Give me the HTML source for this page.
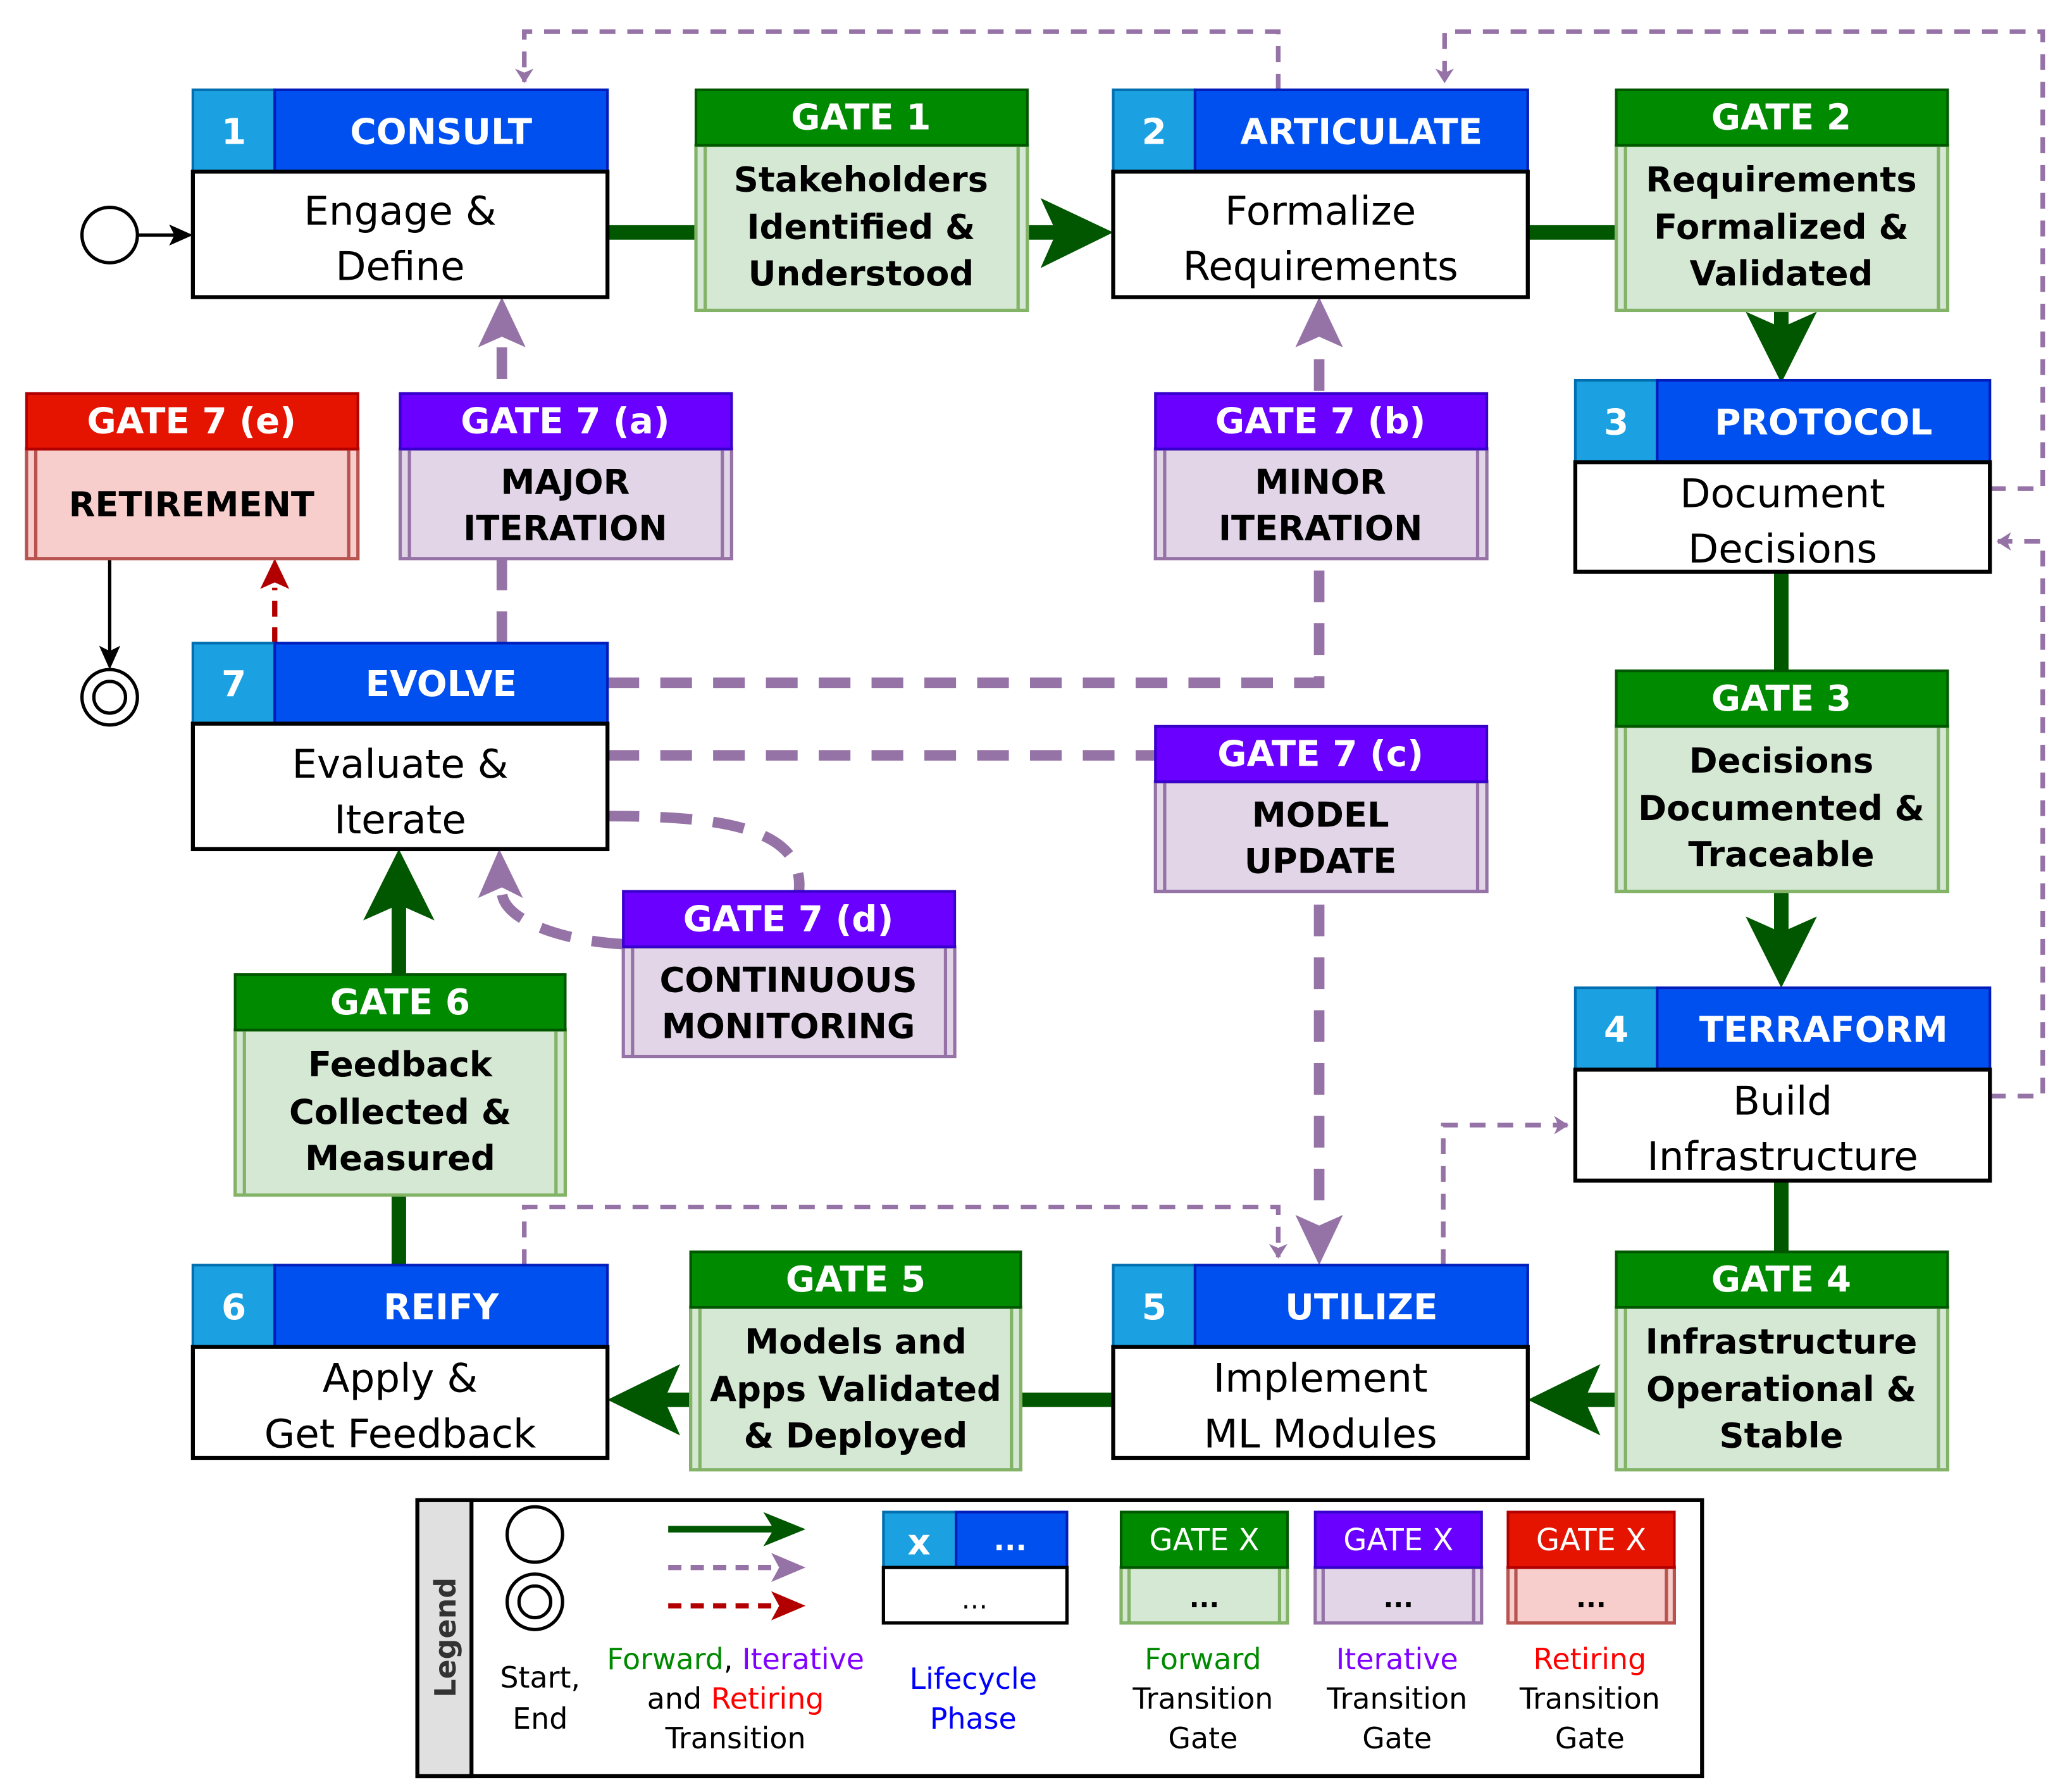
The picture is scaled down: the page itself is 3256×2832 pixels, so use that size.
<!DOCTYPE html>
<html><head><meta charset="utf-8"><style>
html,body{margin:0;padding:0;background:#fff}
svg{display:block}
text{font-family:"DejaVu Sans","Liberation Sans",sans-serif}
.h{font-weight:bold;fill:#fff;font-size:27px}
.b{font-size:30px;fill:#000}
.g{font-weight:bold;font-size:26px;fill:#000}
.l{font-size:22px}
</style></head><body>
<svg width="3256" height="2832" viewBox="0 0 1560 1357" xmlns="http://www.w3.org/2000/svg">
<defs>
<marker id="pa" markerWidth="12" markerHeight="14" refX="10" refY="7" orient="auto" markerUnits="userSpaceOnUse"><path d="M0,0 L11,7 L0,14 L3,7Z" fill="#9673a6"/></marker>
</defs>
<!-- thin purple dashed -->
<g fill="none" stroke="#9673a6" stroke-width="3.5" stroke-dasharray="12 9">
<path d="M968,68 V24 H397 V62" marker-end="url(#pa)"/>
<path d="M1507,370 H1547 V24 H1094 V62" marker-end="url(#pa)"/>
<path d="M1507,830 H1547 V410 H1513" marker-end="url(#pa)"/>
<path d="M1093,958 V852 H1187" marker-end="url(#pa)"/>
<path d="M397,958 V914 H968 V952" marker-end="url(#pa)"/>
</g>
<!-- thick purple dashed -->
<g fill="none" stroke="#9673a6" stroke-width="8" stroke-dasharray="24 16">
<path d="M380,487 V262"/>
<path d="M460,517 H999 V262"/>
<path d="M460,572 H875"/>
<path d="M999,685 V920"/>
<path d="M460,618 C540,618 610,625 605,675"/>
<path d="M472,715 C420,712 380,695 380,675"/>
</g>
<g fill="#9673a6">
<polygon points="380,225 362,263 380,255 398,263"/>
<polygon points="999,225 981,263 999,255 1017,263"/>
<polygon points="999,958 981,920 999,928 1017,920"/>
<polygon points="378,643 362,680 380,672 396,680"/>
</g>
<!-- red dashed -->
<path d="M208,487 V445" stroke="#b20000" stroke-width="4" stroke-dasharray="12 8" fill="none"/>
<polygon points="208,423 197,446 208,441 219,446" fill="#b20000"/>
<!-- black arrows -->
<path d="M83,423 V500" stroke="#000" stroke-width="2.5"/>
<polygon points="83,507 75,489 83,493 91,489" fill="#000"/>
<path d="M104,178 H138" stroke="#000" stroke-width="2.5"/>
<polygon points="146,178 128,170 132,178 128,186" fill="#000"/>
<circle cx="83" cy="178" r="21" fill="#fff" stroke="#000" stroke-width="2.5"/>
<circle cx="83" cy="528" r="21" fill="#fff" stroke="#000" stroke-width="2.5"/>
<circle cx="83" cy="528" r="12" fill="#fff" stroke="#000" stroke-width="2.5"/>
<!-- green connectors -->
<g stroke="#005700" stroke-width="11" fill="none">
<path d="M460,176 H800"/><path d="M1157,176 H1224"/>
<path d="M1349,235 V265"/><path d="M1349,433 V508"/><path d="M1349,675 V720"/>
<path d="M1349,894 V948"/><path d="M1224,1060 H1190"/><path d="M773,1060 H843"/>
<path d="M523,1060 H495"/><path d="M302,958 V905"/><path d="M302,738 V680"/>
</g>
<g fill="#005700">
<polygon points="843,176 788,150 800,176 788,203"/>
<polygon points="1349,290 1322,236 1349,248 1376,236"/>
<polygon points="1349,748 1322,694 1349,706 1376,694"/>
<polygon points="1157,1060 1212,1033 1200,1060 1212,1087"/>
<polygon points="460,1060 515,1033 503,1060 515,1087"/>
<polygon points="302,643 275,697 302,685 329,697"/>
</g>
<!-- phase boxes -->
<g id="phases">
<g transform="translate(146,68)">
<rect x="0" y="0" width="62" height="62" fill="#1ba1e2" stroke="#006eaf" stroke-width="2"/><rect x="62" y="0" width="252" height="62" fill="#0050ef" stroke="#001dbc" stroke-width="2"/>
<rect x="0" y="62" width="314" height="95" fill="#fff" stroke="#000" stroke-width="3"/>
<text class="h" x="31" y="41" text-anchor="middle">1</text><text class="h" x="188" y="41" text-anchor="middle">CONSULT</text>
<text class="b" x="157" y="102" text-anchor="middle">Engage &amp;</text><text class="b" x="157" y="144" text-anchor="middle">Define</text></g>
<g transform="translate(843,68)">
<rect x="0" y="0" width="62" height="62" fill="#1ba1e2" stroke="#006eaf" stroke-width="2"/><rect x="62" y="0" width="252" height="62" fill="#0050ef" stroke="#001dbc" stroke-width="2"/>
<rect x="0" y="62" width="314" height="95" fill="#fff" stroke="#000" stroke-width="3"/>
<text class="h" x="31" y="41" text-anchor="middle">2</text><text class="h" x="188" y="41" text-anchor="middle">ARTICULATE</text>
<text class="b" x="157" y="102" text-anchor="middle">Formalize</text><text class="b" x="157" y="144" text-anchor="middle">Requirements</text></g>
<g transform="translate(1193,288)">
<rect x="0" y="0" width="62" height="62" fill="#1ba1e2" stroke="#006eaf" stroke-width="2"/><rect x="62" y="0" width="252" height="62" fill="#0050ef" stroke="#001dbc" stroke-width="2"/>
<rect x="0" y="62" width="314" height="83" fill="#fff" stroke="#000" stroke-width="3"/>
<text class="h" x="31" y="41" text-anchor="middle">3</text><text class="h" x="188" y="41" text-anchor="middle">PROTOCOL</text>
<text class="b" x="157" y="96" text-anchor="middle">Document</text><text class="b" x="157" y="138" text-anchor="middle">Decisions</text></g>
<g transform="translate(1193,748)">
<rect x="0" y="0" width="62" height="62" fill="#1ba1e2" stroke="#006eaf" stroke-width="2"/><rect x="62" y="0" width="252" height="62" fill="#0050ef" stroke="#001dbc" stroke-width="2"/>
<rect x="0" y="62" width="314" height="84" fill="#fff" stroke="#000" stroke-width="3"/>
<text class="h" x="31" y="41" text-anchor="middle">4</text><text class="h" x="188" y="41" text-anchor="middle">TERRAFORM</text>
<text class="b" x="157" y="96" text-anchor="middle">Build</text><text class="b" x="157" y="138" text-anchor="middle">Infrastructure</text></g>
<g transform="translate(843,958)">
<rect x="0" y="0" width="62" height="62" fill="#1ba1e2" stroke="#006eaf" stroke-width="2"/><rect x="62" y="0" width="252" height="62" fill="#0050ef" stroke="#001dbc" stroke-width="2"/>
<rect x="0" y="62" width="314" height="84" fill="#fff" stroke="#000" stroke-width="3"/>
<text class="h" x="31" y="41" text-anchor="middle">5</text><text class="h" x="188" y="41" text-anchor="middle">UTILIZE</text>
<text class="b" x="157" y="96" text-anchor="middle">Implement</text><text class="b" x="157" y="138" text-anchor="middle">ML Modules</text></g>
<g transform="translate(146,958)">
<rect x="0" y="0" width="62" height="62" fill="#1ba1e2" stroke="#006eaf" stroke-width="2"/><rect x="62" y="0" width="252" height="62" fill="#0050ef" stroke="#001dbc" stroke-width="2"/>
<rect x="0" y="62" width="314" height="84" fill="#fff" stroke="#000" stroke-width="3"/>
<text class="h" x="31" y="41" text-anchor="middle">6</text><text class="h" x="188" y="41" text-anchor="middle">REIFY</text>
<text class="b" x="157" y="96" text-anchor="middle">Apply &amp;</text><text class="b" x="157" y="138" text-anchor="middle">Get Feedback</text></g>
<g transform="translate(146,487)">
<rect x="0" y="0" width="62" height="61" fill="#1ba1e2" stroke="#006eaf" stroke-width="2"/><rect x="62" y="0" width="252" height="61" fill="#0050ef" stroke="#001dbc" stroke-width="2"/>
<rect x="0" y="61" width="314" height="95" fill="#fff" stroke="#000" stroke-width="3"/>
<text class="h" x="31" y="40" text-anchor="middle">7</text><text class="h" x="188" y="40" text-anchor="middle">EVOLVE</text>
<text class="b" x="157" y="102" text-anchor="middle">Evaluate &amp;</text><text class="b" x="157" y="144" text-anchor="middle">Iterate</text></g>
</g>
<!-- gates: green -->
<g>
<g transform="translate(527,68)"><rect x="0" y="42" width="251" height="125" fill="#d5e8d4" stroke="#82b366" stroke-width="2.5"/><path d="M7,42V167M244,42V167" stroke="#82b366" stroke-width="2.5"/><rect width="251" height="42" fill="#008a00" stroke="#005700" stroke-width="2"/>
<text class="h" x="125" y="30" text-anchor="middle">GATE 1</text>
<text class="g" x="125" y="77" text-anchor="middle">Stakeholders</text><text class="g" x="125" y="113" text-anchor="middle">Identified &amp;</text><text class="g" x="125" y="148" text-anchor="middle">Understood</text></g>
<g transform="translate(1224,68)"><rect x="0" y="42" width="251" height="125" fill="#d5e8d4" stroke="#82b366" stroke-width="2.5"/><path d="M7,42V167M244,42V167" stroke="#82b366" stroke-width="2.5"/><rect width="251" height="42" fill="#008a00" stroke="#005700" stroke-width="2"/>
<text class="h" x="125" y="30" text-anchor="middle">GATE 2</text>
<text class="g" x="125" y="77" text-anchor="middle">Requirements</text><text class="g" x="125" y="113" text-anchor="middle">Formalized &amp;</text><text class="g" x="125" y="148" text-anchor="middle">Validated</text></g>
<g transform="translate(1224,508)"><rect x="0" y="42" width="251" height="125" fill="#d5e8d4" stroke="#82b366" stroke-width="2.5"/><path d="M7,42V167M244,42V167" stroke="#82b366" stroke-width="2.5"/><rect width="251" height="42" fill="#008a00" stroke="#005700" stroke-width="2"/>
<text class="h" x="125" y="30" text-anchor="middle">GATE 3</text>
<text class="g" x="125" y="77" text-anchor="middle">Decisions</text><text class="g" x="125" y="113" text-anchor="middle">Documented &amp;</text><text class="g" x="125" y="148" text-anchor="middle">Traceable</text></g>
<g transform="translate(1224,948)"><rect x="0" y="42" width="251" height="123" fill="#d5e8d4" stroke="#82b366" stroke-width="2.5"/><path d="M7,42V165M244,42V165" stroke="#82b366" stroke-width="2.5"/><rect width="251" height="42" fill="#008a00" stroke="#005700" stroke-width="2"/>
<text class="h" x="125" y="30" text-anchor="middle">GATE 4</text>
<text class="g" x="125" y="77" text-anchor="middle">Infrastructure</text><text class="g" x="125" y="113" text-anchor="middle">Operational &amp;</text><text class="g" x="125" y="148" text-anchor="middle">Stable</text></g>
<g transform="translate(523,948)"><rect x="0" y="42" width="250" height="123" fill="#d5e8d4" stroke="#82b366" stroke-width="2.5"/><path d="M7,42V165M243,42V165" stroke="#82b366" stroke-width="2.5"/><rect width="250" height="42" fill="#008a00" stroke="#005700" stroke-width="2"/>
<text class="h" x="125" y="30" text-anchor="middle">GATE 5</text>
<text class="g" x="125" y="77" text-anchor="middle">Models and</text><text class="g" x="125" y="113" text-anchor="middle">Apps Validated</text><text class="g" x="125" y="148" text-anchor="middle">&amp; Deployed</text></g>
<g transform="translate(178,738)"><rect x="0" y="42" width="250" height="125" fill="#d5e8d4" stroke="#82b366" stroke-width="2.5"/><path d="M7,42V167M243,42V167" stroke="#82b366" stroke-width="2.5"/><rect width="250" height="42" fill="#008a00" stroke="#005700" stroke-width="2"/>
<text class="h" x="125" y="30" text-anchor="middle">GATE 6</text>
<text class="g" x="125" y="77" text-anchor="middle">Feedback</text><text class="g" x="125" y="113" text-anchor="middle">Collected &amp;</text><text class="g" x="125" y="148" text-anchor="middle">Measured</text></g>
</g>
<!-- gates: purple & red -->
<g>
<g transform="translate(303,298)"><rect x="0" y="42" width="251" height="83" fill="#e1d5e7" stroke="#9673a6" stroke-width="2.5"/><path d="M7,42V125M244,42V125" stroke="#9673a6" stroke-width="2.5"/><rect width="251" height="42" fill="#6a00ff" stroke="#3700cc" stroke-width="2"/>
<text class="h" x="125" y="30" text-anchor="middle">GATE 7 (a)</text>
<text class="g" x="125" y="76" text-anchor="middle">MAJOR</text><text class="g" x="125" y="111" text-anchor="middle">ITERATION</text></g>
<g transform="translate(875,298)"><rect x="0" y="42" width="251" height="83" fill="#e1d5e7" stroke="#9673a6" stroke-width="2.5"/><path d="M7,42V125M244,42V125" stroke="#9673a6" stroke-width="2.5"/><rect width="251" height="42" fill="#6a00ff" stroke="#3700cc" stroke-width="2"/>
<text class="h" x="125" y="30" text-anchor="middle">GATE 7 (b)</text>
<text class="g" x="125" y="76" text-anchor="middle">MINOR</text><text class="g" x="125" y="111" text-anchor="middle">ITERATION</text></g>
<g transform="translate(875,550)"><rect x="0" y="42" width="251" height="83" fill="#e1d5e7" stroke="#9673a6" stroke-width="2.5"/><path d="M7,42V125M244,42V125" stroke="#9673a6" stroke-width="2.5"/><rect width="251" height="42" fill="#6a00ff" stroke="#3700cc" stroke-width="2"/>
<text class="h" x="125" y="30" text-anchor="middle">GATE 7 (c)</text>
<text class="g" x="125" y="76" text-anchor="middle">MODEL</text><text class="g" x="125" y="111" text-anchor="middle">UPDATE</text></g>
<g transform="translate(472,675)"><rect x="0" y="42" width="251" height="83" fill="#e1d5e7" stroke="#9673a6" stroke-width="2.5"/><path d="M7,42V125M244,42V125" stroke="#9673a6" stroke-width="2.5"/><rect width="251" height="42" fill="#6a00ff" stroke="#3700cc" stroke-width="2"/>
<text class="h" x="125" y="30" text-anchor="middle">GATE 7 (d)</text>
<text class="g" x="125" y="76" text-anchor="middle">CONTINUOUS</text><text class="g" x="125" y="111" text-anchor="middle">MONITORING</text></g>
<g transform="translate(20,298)"><rect x="0" y="42" width="251" height="83" fill="#f8cecc" stroke="#b85450" stroke-width="2.5"/><path d="M7,42V125M244,42V125" stroke="#b85450" stroke-width="2.5"/><rect width="251" height="42" fill="#e51400" stroke="#b20000" stroke-width="2"/>
<text class="h" x="125" y="30" text-anchor="middle">GATE 7 (e)</text>
<text class="g" x="125" y="93" text-anchor="middle">RETIREMENT</text></g>
</g>
<!-- legend -->
<g>
<rect x="316" y="1136" width="973" height="209" fill="#fff" stroke="#000" stroke-width="3"/>
<rect x="316" y="1136" width="41" height="209" fill="#e0e0e0" stroke="#000" stroke-width="3"/>
<text transform="translate(345,1240) rotate(-90)" text-anchor="middle" style="font-weight:bold;font-size:22px;fill:#333">Legend</text>
<circle cx="405" cy="1162" r="21" fill="#fff" stroke="#000" stroke-width="2.5"/>
<circle cx="405" cy="1213" r="21" fill="#fff" stroke="#000" stroke-width="2.5"/>
<circle cx="405" cy="1213" r="12" fill="#fff" stroke="#000" stroke-width="2.5"/>
<path d="M506,1158 H590" stroke="#005700" stroke-width="5"/><polygon points="610,1158 578,1145 586,1158 578,1171" fill="#005700"/>
<path d="M506,1187 H590" stroke="#9673a6" stroke-width="4" stroke-dasharray="10 7"/><polygon points="610,1187 584,1176 590,1187 584,1198" fill="#9673a6"/>
<path d="M506,1216 H590" stroke="#b20000" stroke-width="4" stroke-dasharray="10 7"/><polygon points="610,1216 584,1205 590,1216 584,1227" fill="#b20000"/>
<text class="l" x="409" y="1278" text-anchor="middle">Start,</text><text class="l" x="409" y="1309" text-anchor="middle">End</text>
<text class="l" x="557" y="1264" text-anchor="middle"><tspan fill="#008a00">Forward</tspan>, <tspan fill="#7f00ff">Iterative</tspan></text>
<text class="l" x="557" y="1294" text-anchor="middle">and <tspan fill="#ff0000">Retiring</tspan></text>
<text class="l" x="557" y="1324" text-anchor="middle">Transition</text>
<rect x="669" y="1145" width="55" height="42" fill="#1ba1e2" stroke="#006eaf" stroke-width="2"/><rect x="724" y="1145" width="84" height="42" fill="#0050ef" stroke="#001dbc" stroke-width="2"/>
<rect x="669" y="1187" width="139" height="42" fill="#fff" stroke="#000" stroke-width="2.5"/>
<text class="h" x="696" y="1177" text-anchor="middle">x</text><text class="h" x="765" y="1174" text-anchor="middle" style="font-size:22px">...</text>
<text x="738" y="1218" text-anchor="middle" style="font-size:20px">…</text>
<text class="l" x="737" y="1279" text-anchor="middle" fill="#0000ff">Lifecycle</text><text class="l" x="737" y="1309" text-anchor="middle" fill="#0000ff">Phase</text>
<g transform="translate(849,1145)"><rect y="42" width="126" height="42" fill="#d5e8d4" stroke="#82b366" stroke-width="2.5"/><path d="M6,42V84M120,42V84" stroke="#82b366" stroke-width="2.5"/><rect width="126" height="42" fill="#008a00" stroke="#005700" stroke-width="2"/>
<text x="63" y="29" text-anchor="middle" style="fill:#fff;font-size:23px">GATE X</text><text x="63" y="72" text-anchor="middle" style="font-weight:bold;font-size:20px">...</text></g>
<g transform="translate(996,1145)"><rect y="42" width="126" height="42" fill="#e1d5e7" stroke="#9673a6" stroke-width="2.5"/><path d="M6,42V84M120,42V84" stroke="#9673a6" stroke-width="2.5"/><rect width="126" height="42" fill="#6a00ff" stroke="#3700cc" stroke-width="2"/>
<text x="63" y="29" text-anchor="middle" style="fill:#fff;font-size:23px">GATE X</text><text x="63" y="72" text-anchor="middle" style="font-weight:bold;font-size:20px">...</text></g>
<g transform="translate(1142,1145)"><rect y="42" width="126" height="42" fill="#f8cecc" stroke="#b85450" stroke-width="2.5"/><path d="M6,42V84M120,42V84" stroke="#b85450" stroke-width="2.5"/><rect width="126" height="42" fill="#e51400" stroke="#b20000" stroke-width="2"/>
<text x="63" y="29" text-anchor="middle" style="fill:#fff;font-size:23px">GATE X</text><text x="63" y="72" text-anchor="middle" style="font-weight:bold;font-size:20px">...</text></g>
<text class="l" x="911" y="1264" text-anchor="middle" fill="#008a00">Forward</text><text class="l" x="911" y="1294" text-anchor="middle">Transition</text><text class="l" x="911" y="1324" text-anchor="middle">Gate</text>
<text class="l" x="1058" y="1264" text-anchor="middle" fill="#7f00ff">Iterative</text><text class="l" x="1058" y="1294" text-anchor="middle">Transition</text><text class="l" x="1058" y="1324" text-anchor="middle">Gate</text>
<text class="l" x="1204" y="1264" text-anchor="middle" fill="#ff0000">Retiring</text><text class="l" x="1204" y="1294" text-anchor="middle">Transition</text><text class="l" x="1204" y="1324" text-anchor="middle">Gate</text>
</g>
</svg>
</body></html>
